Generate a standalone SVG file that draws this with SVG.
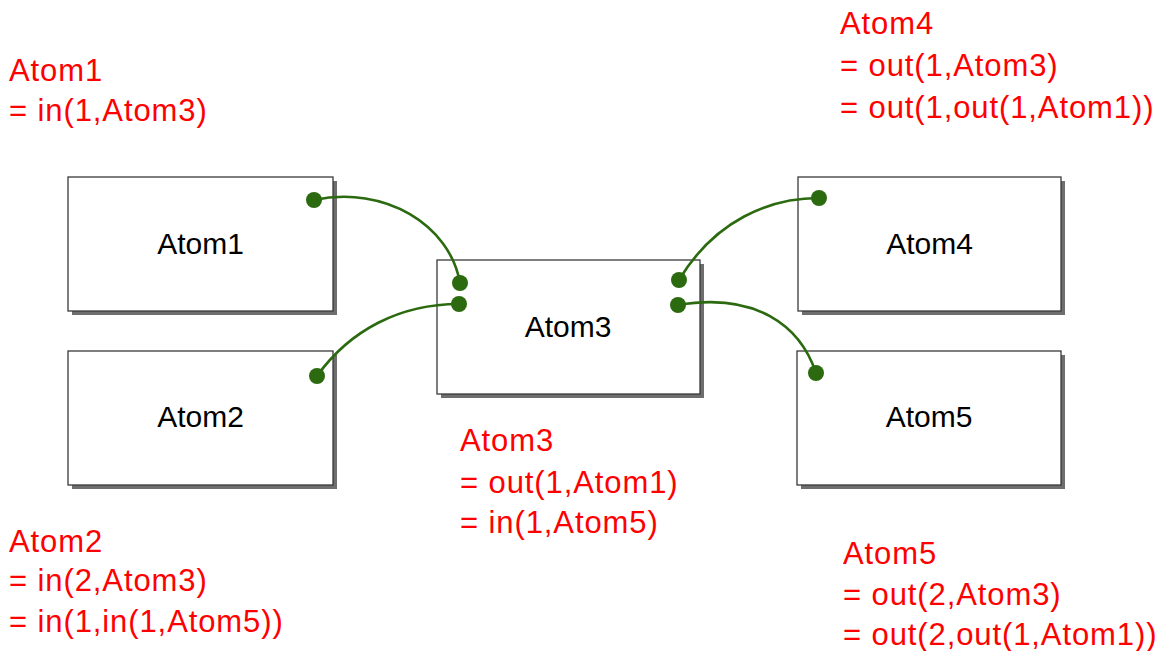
<svg xmlns="http://www.w3.org/2000/svg" width="1158" height="651" viewBox="0 0 1158 651">
<style>
.box{fill:#fff;stroke:#3a3a3a;stroke-width:1.3}
.shadow{fill:#6e6e6e}
.name{font-family:"Liberation Sans",Arial,sans-serif;font-size:30px;fill:#000;text-anchor:middle}
.lbl{font-family:"Liberation Sans",Arial,sans-serif;font-size:31px;fill:#ff0000;letter-spacing:0.9px}
.wire{fill:none;stroke:#2c6a10;stroke-width:2.6}
.port{fill:#2c6a10}
</style>
<rect width="1158" height="651" fill="#fff"/>
<g id="atom1">
<rect class="shadow" x="72" y="181" width="265" height="134"/>
<rect class="box" x="68" y="177" width="265" height="134"/>
<text class="name" x="200.5" y="254">Atom1</text>
</g>
<g id="atom2">
<rect class="shadow" x="72" y="355" width="265" height="134"/>
<rect class="box" x="68" y="351" width="265" height="134"/>
<text class="name" x="200.5" y="427">Atom2</text>
</g>
<g id="atom3">
<rect class="shadow" x="441" y="264" width="263" height="134"/>
<rect class="box" x="437" y="260" width="263" height="134"/>
<text class="name" x="568" y="337">Atom3</text>
</g>
<g id="atom4">
<rect class="shadow" x="802" y="181" width="263" height="134"/>
<rect class="box" x="798" y="177" width="263" height="134"/>
<text class="name" x="929.5" y="254">Atom4</text>
</g>
<g id="atom5">
<rect class="shadow" x="801" y="355" width="264" height="134"/>
<rect class="box" x="797" y="351" width="264" height="134"/>
<text class="name" x="929" y="427">Atom5</text>
</g>
<g id="connectors">
<path class="wire" d="M314,200 C385,185 450,225 460,283"/>
<path class="wire" d="M317,376 C350,330 400,304 459,304"/>
<path class="wire" d="M679,280 C715,220 770,198 819,198"/>
<path class="wire" d="M678,305 C755,292 800,325 816,373"/>
<circle class="port" cx="314" cy="200" r="8"/>
<circle class="port" cx="460" cy="283" r="8"/>
<circle class="port" cx="317" cy="376" r="8"/>
<circle class="port" cx="459" cy="304" r="8"/>
<circle class="port" cx="679" cy="280" r="8"/>
<circle class="port" cx="819" cy="198" r="8"/>
<circle class="port" cx="678" cy="305" r="8"/>
<circle class="port" cx="816" cy="373" r="8"/>
</g>
<g id="labels">
<text class="lbl" x="9" y="81">Atom1</text>
<text class="lbl" x="9" y="121">= in(1,Atom3)</text>
<text class="lbl" x="840" y="34">Atom4</text>
<text class="lbl" x="840" y="76">= out(1,Atom3)</text>
<text class="lbl" x="840" y="118">= out(1,out(1,Atom1))</text>
<text class="lbl" x="460" y="451">Atom3</text>
<text class="lbl" x="460" y="493">= out(1,Atom1)</text>
<text class="lbl" x="460" y="533">= in(1,Atom5)</text>
<text class="lbl" x="9" y="552">Atom2</text>
<text class="lbl" x="9" y="591">= in(2,Atom3)</text>
<text class="lbl" x="9" y="632">= in(1,in(1,Atom5))</text>
<text class="lbl" x="843" y="564">Atom5</text>
<text class="lbl" x="843" y="605">= out(2,Atom3)</text>
<text class="lbl" x="843" y="645">= out(2,out(1,Atom1))</text>
</g>
</svg>
